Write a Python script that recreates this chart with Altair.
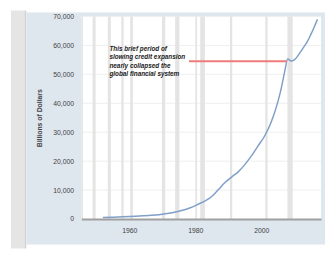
import altair as alt
import pandas as pd

# ---- data ----
years = [1952, 1955, 1958, 1960, 1963, 1966, 1969, 1971, 1973, 1975, 1977, 1979,
         1981, 1983, 1985, 1987, 1989, 1991, 1993, 1995, 1997, 1999, 2001, 2003,
         2005, 2006, 2007, 2008, 2009, 2010, 2011, 2012, 2013, 2014, 2015, 2016, 2017]
debt = [550, 650, 750, 850, 1050, 1250, 1500, 1800, 2200, 2700, 3300, 4100,
        5200, 6300, 7800, 10200, 12600, 14500, 16300, 18800, 21800, 25300, 28700, 33500,
        40500, 45000, 50500, 55300, 54600, 55000, 56300, 58000, 59700, 61500, 63800, 66300, 69000]

rec_start = [1945.5, 1948.9, 1953.5, 1957.6, 1960.3, 1969.9, 1973.9, 1980.0, 1981.5, 1990.5, 2001.2, 2007.9]
rec_end = [1946.0, 1949.8, 1954.4, 1958.3, 1961.1, 1970.9, 1975.2, 1980.5, 1982.9, 1991.2, 2001.9, 2009.5]

y_ticks = [0, 10000, 20000, 30000, 40000, 50000, 60000, 70000]
x_ticks = [1960, 1980, 2000]

note_lines = ["This brief period of", "slowing credit expansion",
              "nearly collapsed the", "global financial system"]
note_x = [1954.0]
note_y = [59800]
marker_x = [1978.1]
marker_x2 = [2007.7]
marker_y = [54500]

# ---- chart ----
W, H = 245, 207
xs = alt.Scale(domain=[1945.5, 2018.1], nice=False, zero=False)
ys = alt.Scale(domain=[0, 70000], nice=False)
FONT = "Liberation Sans"

x_axis = alt.Axis(
    values=x_ticks, labelExpr="format(datum.value, 'd')", title=None, grid=False,
    domain=True, domainColor="#a0a0a0", domainWidth=2,
    ticks=False, tickSize=0, labelPadding=8,
    labelFontSize=7, labelColor="#444", labelFont=FONT, zindex=1)
y_axis = alt.Axis(
    values=y_ticks, labelExpr="format(datum.value, ',')", title="Billions of Dollars", grid=False,
    domain=False, ticks=False, tickSize=0, labelPadding=8,
    labelFontSize=7, labelColor="#444", labelFont=FONT,
    titleFontSize=7, titleColor="#444", titleFont=FONT, titleFontWeight="bold",
    titlePadding=10, zindex=1)

one = pd.DataFrame({"k": [0]})

strip = alt.Chart(one).mark_rect(color="#e5e5e5").encode(
    x=alt.value(-72), x2=alt.value(-57), y=alt.value(-6), y2=alt.value(237))
strip_edge = alt.Chart(one).mark_rule(color="#d2d2d2", strokeWidth=1.5).encode(
    x=alt.value(-57), y=alt.value(-6), y2=alt.value(237))
panel = alt.Chart(one).mark_rect(color="#dee6ee").encode(
    x=alt.value(-56), x2=alt.value(250), y=alt.value(-4), y2=alt.value(233))
plotbg = alt.Chart(one).mark_rect(color="white").encode(
    x=alt.value(0), x2=alt.value(W), y=alt.value(0), y2=alt.value(H))

grid = alt.Chart(pd.DataFrame({"v": y_ticks[1:]})).mark_rule(
    color="#efefef", strokeWidth=1).encode(y=alt.Y("v:Q", scale=ys, axis=y_axis))

rec = alt.Chart(pd.DataFrame({"s": rec_start, "e": rec_end})).mark_rect(
    color="#e4e4e4").encode(
    x=alt.X("s:Q", scale=xs, axis=x_axis), x2="e:Q",
    y=alt.value(0), y2=alt.value(H))

line = alt.Chart(pd.DataFrame({"year": years, "debt": debt})).mark_line(
    color="#7f9fc9", strokeWidth=1.5, interpolate="monotone").encode(
    x=alt.X("year:Q", scale=xs, axis=x_axis),
    y=alt.Y("debt:Q", scale=ys, axis=y_axis),
)

marker = alt.Chart(pd.DataFrame({"x": marker_x, "x2": marker_x2, "y": marker_y})).mark_rule(
    color="#ef7b7b", strokeWidth=2).encode(
    x=alt.X("x:Q", scale=xs, axis=x_axis), x2="x2:Q", y=alt.Y("y:Q", scale=ys, axis=y_axis))

note = alt.Chart(pd.DataFrame({"x": note_x, "y": note_y, "t": ["\n".join(note_lines)]})).mark_text(
    align="left", baseline="top", fontStyle="italic", fontWeight="bold",
    fontSize=6.5, lineHeight=8.5, color="#222", font=FONT, lineBreak="\n").encode(
    x=alt.X("x:Q", scale=xs, axis=x_axis), y=alt.Y("y:Q", scale=ys, axis=y_axis), text="t:N")

chart = alt.layer(strip, strip_edge, panel, plotbg, grid, rec, line, marker, note).properties(
    width=W, height=H,
    autosize=alt.AutoSizeParams(type="none"),
    padding={"left": 75, "top": 6, "right": 4, "bottom": 30},
).configure_view(stroke=None)

chart.save("out.html", embed_options={"renderer": "svg", "actions": False})
